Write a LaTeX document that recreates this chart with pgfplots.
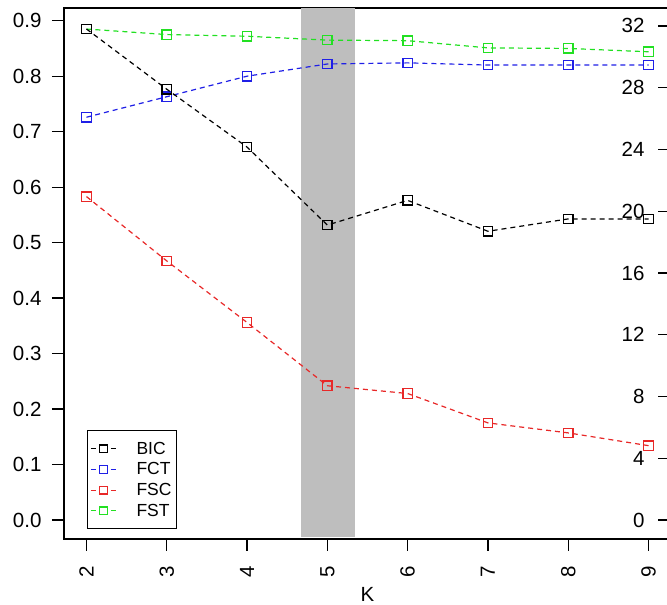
\documentclass[border=0pt]{standalone}
\usepackage{fontspec}
\setmainfont{Liberation Sans}
\usepackage{pgfplots}
\pgfplotsset{compat=1.18}
\definecolor{rblue}{HTML}{1F1FE6}
\definecolor{rred}{HTML}{E82828}
\definecolor{rgreen}{HTML}{22E022}
\definecolor{rgray}{HTML}{BEBEBE}

\pgfplotsset{
  serie/.style={line width=1.2pt, dash pattern=on 5pt off 4pt, mark=square,
    mark size=4.7pt, mark options={solid, line width=1.3pt}},
}

\begin{document}
\begin{tikzpicture}
\useasboundingbox (0,0) rectangle (667pt,605pt);
\begin{axis}[
  at={(64pt,66pt)}, anchor=south west,
  scale only axis, width=607pt, height=531pt,
  xmin=1.72, xmax=9.28, ymin=-0.03425, ymax=0.9229,
  xtick={2,3,4,5,6,7,8,9},
  ytick={0,0.1,0.2,0.3,0.4,0.5,0.6,0.7,0.8,0.9},
  yticklabel style={/pgf/number format/fixed, /pgf/number format/fixed zerofill,
    /pgf/number format/precision=1},
  yticklabel shift=7pt,
  /pgf/number format/assume math mode=true,
  xtick pos=lower, ytick pos=left,
  tick align=outside, major tick length=12pt,
  axis line style={line width=1.4pt},
  every tick/.style={line width=1.2pt, black},
  ticklabel style={font=\fontsize{20.5}{24}\selectfont},
  xticklabel style={rotate=90, anchor=east},
  xticklabel shift=12pt,
  xlabel={K},
  xlabel style={font=\fontsize{20.5}{24}\selectfont, at={(axis description cs:0.5,0)}, anchor=center, yshift=-55pt},
  legend cell align=left,
  legend image code/.code={
    \draw[#1, solid] (0pt,0pt) -- (5pt,0pt);
    \draw[#1, solid] (20pt,0pt) -- (25pt,0pt);
    \draw[#1, solid, only marks, mark size=3.8pt] plot coordinates {(12.5pt,0pt)};
  },
  legend style={at={(0.0374,0.0183)}, anchor=south west, draw=black, line width=1.2pt,
    font=\fontsize{17.5}{20}\selectfont, inner xsep=3pt, inner ysep=9pt,
    row sep=3pt, /tikz/every odd column/.append style={column sep=18pt}},
]
\addplot[fill=rgray, draw=none, forget plot] coordinates {
  (4.67,-0.030) (5.35,-0.030) (5.35,0.9229) (4.67,0.9229)} -- cycle;

\addplot[serie, color=rblue, forget plot] coordinates {
  (2,0.726) (3,0.763) (4,0.800) (5,0.822) (6,0.824) (7,0.820) (8,0.820) (9,0.820)};

\addplot[serie, color=rred, forget plot] coordinates {
  (2,0.583) (3,0.467) (4,0.356) (5,0.242) (6,0.228) (7,0.175) (8,0.157) (9,0.134)};

\addplot[serie, color=rgreen, forget plot] coordinates {
  (2,0.885) (3,0.875) (4,0.872) (5,0.865) (6,0.864) (7,0.851) (8,0.850) (9,0.844)};

\addlegendimage{serie, color=black}
\addlegendentry{BIC}
\addlegendimage{serie, color=rblue}
\addlegendentry{FCT}
\addlegendimage{serie, color=rred}
\addlegendentry{FSC}
\addlegendimage{serie, color=rgreen}
\addlegendentry{FST}
\end{axis}

\begin{axis}[
  at={(64pt,66pt)}, anchor=south west,
  scale only axis, width=607pt, height=531pt,
  xmin=1.72, xmax=9.28, ymin=-1.2306, ymax=33.16,
  axis x line=none, axis y line*=right,
  ytick={0,4,8,12,16,20,24,28,32},
  /pgf/number format/assume math mode=true,
  tick align=inside, major tick length=13pt,
  axis line style={line width=1.4pt},
  every tick/.style={line width=1.2pt, black},
  ticklabel style={font=\fontsize{20.5}{24}\selectfont},
  yticklabel style={anchor=east, xshift=-23pt},
]
\addplot[serie, color=black] coordinates {
  (2,31.8) (3,27.9) (4,24.15) (5,19.1) (6,20.7) (7,18.7) (8,19.5) (9,19.5)};
\end{axis}
\end{tikzpicture}
\end{document}
